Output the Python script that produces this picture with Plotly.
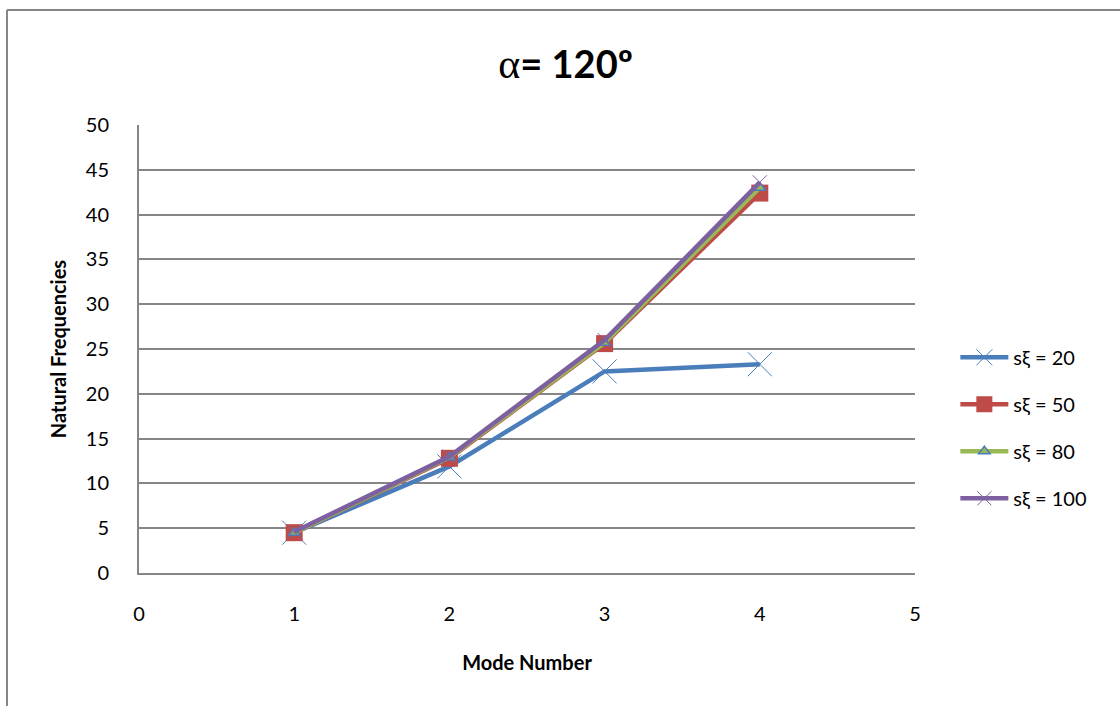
import plotly.graph_objects as go

modes = [1, 2, 3, 4]
s20 = [4.5, 11.9, 22.5, 23.3]
s50 = [4.5, 12.8, 25.6, 42.4]
s80 = [4.5, 12.9, 25.7, 43.0]
s100 = [4.6, 13.0, 26.0, 43.6]
names = ["sξ = 20", "sξ = 50", "sξ = 80", "sξ = 100"]

FONT = "Lato"
fig = go.Figure()
fig.add_trace(go.Scatter(x=modes, y=s20, name=names[0], mode="lines+markers", legendgroup="a",
                         line=dict(color="#4A7EBB", width=4.5),
                         marker=dict(symbol="x-thin-open", size=24, line=dict(color="#4A7EBB", width=1))))
fig.add_trace(go.Scatter(x=modes, y=s50, name=names[1], mode="lines+markers", legendgroup="b",
                         line=dict(color="#BE4B48", width=4.5),
                         marker=dict(symbol="square", size=17, color="#BE4B48")))
fig.add_trace(go.Scatter(x=modes, y=s80, name=names[2], mode="lines+markers", legendgroup="c",
                         line=dict(color="#98B954", width=4.5),
                         marker=dict(symbol="triangle-up", size=10, color="#98B954",
                                     line=dict(color="#4A7EBB", width=1.5))))
fig.add_trace(go.Scatter(x=modes, y=s100, name=names[3], mode="lines+markers", legendgroup="d",
                         line=dict(color="#7D60A0", width=4.5),
                         marker=dict(symbol="x-thin-open", size=14, line=dict(color="#7D60A0", width=1))))

fig.update_layout(
    width=1120, height=706,
    margin=dict(l=139, r=205, t=125, b=133),
    paper_bgcolor="white", plot_bgcolor="white",
    font=dict(family=FONT, size=20, color="black"),
    title=dict(text="<span style='font-family:Liberation Serif;font-weight:normal;font-size:42px'>α</span>= 120º",
               x=0.505, xref="container", xanchor="center", y=1 - 65 / 706, yanchor="middle",
               font=dict(family=FONT, size=38, color="black", weight="bold")),
    showlegend=True,
    legend=dict(x=1.052, xanchor="left", y=0.525, yanchor="top", tracegroupgap=18, itemwidth=48,
                font=dict(family=FONT, size=20, color="black"), bgcolor="rgba(0,0,0,0)"),
    xaxis=dict(range=[0, 5], dtick=1, showgrid=False, showline=True, linecolor="#868686", linewidth=2,
               zeroline=False, ticks="", tickfont=dict(size=20), ticklabelstandoff=22,
               title=dict(text="Mode Number", standoff=32, font=dict(size=20, weight="bold"))),
    yaxis=dict(range=[0, 50], dtick=5, showgrid=True, gridcolor="#868686", gridwidth=1.5,
               showline=True, linecolor="#868686", linewidth=2, zeroline=False, ticks="",
               tickfont=dict(size=20), ticklabelstandoff=24,
               title=dict(text="Natural Frequencies", standoff=14, font=dict(size=20, weight="bold"))),
)
# outer chart border (top and left, as in the cropped reference)
fig.add_shape(type="line", xref="paper", yref="paper",
              x0=(7 - 139) / 776, x1=(1120 - 139) / 776, y0=(573 - 10) / 448, y1=(573 - 10) / 448,
              line=dict(color="#868686", width=2))
fig.add_shape(type="line", xref="paper", yref="paper",
              x0=(7 - 139) / 776, x1=(7 - 139) / 776, y0=(573 - 10) / 448, y1=(573 - 706) / 448,
              line=dict(color="#868686", width=2))

fig.write_html("out.html")
